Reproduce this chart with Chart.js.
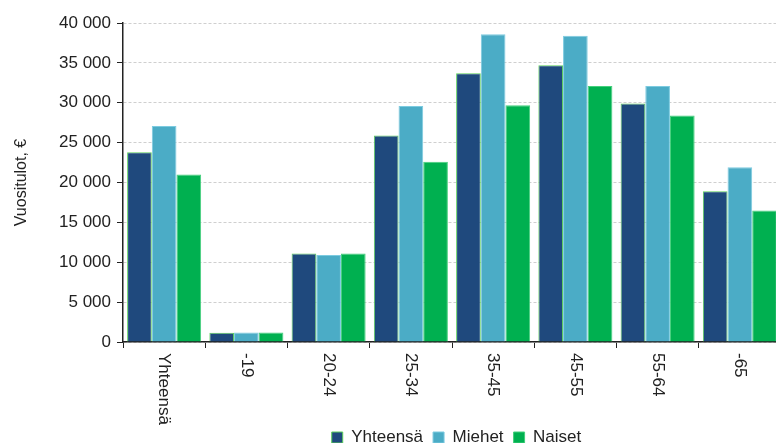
<!DOCTYPE html>
<html>
<head>
<meta charset="utf-8">
<script src="https://cdn.jsdelivr.net/npm/chart.js@4"></script>
<style>
  html, body { margin: 0; padding: 0; background: #fff; overflow: hidden; }
  #wrap { width: 781px; height: 456px; }
</style>
</head>
<body>
<div id="wrap"><canvas id="chart"></canvas></div>
<script>
const categories = ['Yhteensä', '-19', '20-24', '25-34', '35-45', '45-55', '55-64', '-65'];
const yhteensa = [23800, 1150, 11100, 25900, 33700, 34700, 29900, 18900];
const miehet = [27100, 1200, 10900, 29600, 38600, 38400, 32100, 21900];
const naiset = [21000, 1200, 11100, 22600, 29700, 32100, 28400, 16500];
const seriesNames = ['Yhteensä', 'Miehet', 'Naiset'];

Chart.defaults.font.family = "'Liberation Sans', Arial, sans-serif";
Chart.defaults.color = '#222';

function fmt(v) {
    return String(v).replace(/\B(?=(\d{3})+(?!\d))/g, ' ');
}

// x labels read top-to-bottom, so draw them by hand at the scale's tick positions
const xLabels = {
    id: 'xLabels',
    afterDraw(chart) {
        const sc = chart.scales.x;
        const ctx = chart.ctx;
        ctx.save();
        ctx.font = "17px 'Liberation Sans', Arial, sans-serif";
        ctx.fillStyle = '#222';
        ctx.textAlign = 'left';
        ctx.textBaseline = 'middle';
        categories.forEach((c, i) => {
            ctx.save();
            ctx.translate(sc.getPixelForTick(i), sc.top + 11);
            ctx.rotate(Math.PI / 2);
            ctx.fillText(c, 0, 0);
            ctx.restore();
        });
        ctx.restore();
    }
};

// legend sits under the plot area rather than the whole canvas
const legendShift = {
    id: 'legendShift',
    afterLayout(chart) {
        chart.legend.left += 62;
        chart.legend.right += 62;
    }
};

new Chart(document.getElementById('chart'), {
    type: 'bar',
    data: {
        labels: categories,
        datasets: [
            { label: seriesNames[0], data: yhteensa, backgroundColor: '#1f497d', borderColor: '#5ccf5c', borderWidth: 1 },
            { label: seriesNames[1], data: miehet, backgroundColor: '#4bacc6', borderColor: '#7ccbe0', borderWidth: 1 },
            { label: seriesNames[2], data: naiset, backgroundColor: '#00b050', borderColor: '#44d07c', borderWidth: 1 }
        ]
    },
    options: {
        responsive: true,
        maintainAspectRatio: false,
        animation: false,
        layout: { padding: { top: 23, left: 8, right: 0, bottom: 0 } },
        datasets: { bar: { categoryPercentage: 0.9, barPercentage: 1.0 } },
        plugins: {
            tooltip: { enabled: false },
            legend: {
                position: 'bottom',
                labels: { boxWidth: 11, boxHeight: 11, padding: 10, color: '#222', font: { size: 17 } }
            }
        },
        scales: {
            x: {
                grid: { display: true, drawOnChartArea: false, tickLength: 6, tickColor: '#222', offset: true },
                border: { color: '#222', width: 1.5 },
                ticks: { display: false },
                afterFit(scale) { scale.height = 77; }
            },
            y: {
                min: 0,
                max: 40000,
                ticks: { stepSize: 5000, color: '#222', font: { size: 17 }, padding: 6, callback: v => fmt(v) },
                grid: { color: '#cfcfcf', tickColor: '#222', tickLength: 6 },
                border: { color: '#222', width: 1.5, dash: [3, 2] },
                title: { display: true, text: 'Vuositulot, €', color: '#222', font: { size: 16 } },
                afterFit(scale) { scale.width = 115; }
            }
        }
    },
    plugins: [xLabels, legendShift]
});
</script>
</body>
</html>
